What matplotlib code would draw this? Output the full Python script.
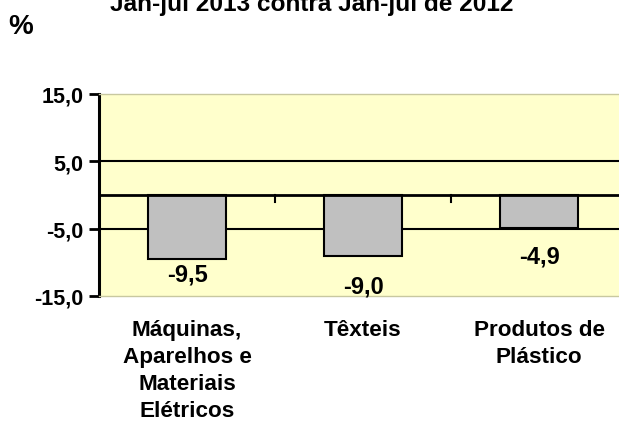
import numpy as np
import matplotlib.pyplot as plt

categorias = ['Máquinas,\nAparelhos e\nMateriais\nElétricos', 'Têxteis', 'Produtos de\nPlástico']
valores = [-9.5, -9.0, -4.9]
rotulos = ['-9,5', '-9,0', '-4,9']
yticks = [15, 5, -5, -15]
ytick_labels = ['15,0', '5,0', '-5,0', '-15,0']
titulo = 'Jan-jul 2013 contra Jan-jul de 2012'

plt.rcParams['font.family'] = ['Liberation Sans', 'DejaVu Sans']
plt.rcParams['font.weight'] = 'bold'

fig = plt.figure(figsize=(6.19, 4.27), dpi=100)
ax = fig.add_axes([99 / 619, 1 - 297 / 427, 528 / 619, 202 / 427])
ax.set_facecolor('#FFFFCC')

x = np.arange(len(valores))
ax.bar(x, valores, width=0.44, color='#C0C0C0', edgecolor='black', linewidth=1.5, zorder=3)

ax.set_xlim(-0.5, len(valores) - 0.5)
ax.set_ylim(-15, 15)
ax.set_yticks(yticks)
ax.set_yticklabels(ytick_labels, fontsize=15.5, fontweight='bold')
ax.tick_params(axis='y', direction='out', length=7, width=2, pad=4)
ax.set_xticks([])

for v in [5, -5]:
    ax.axhline(v, color='black', linewidth=1.5, zorder=1)
ax.axhline(0, color='black', linewidth=2, zorder=4)

# divisórias entre categorias no eixo zero
for b in x[:-1] + 0.5:
    ax.plot([b, b], [0, -1.0], color='black', linewidth=1.5, zorder=4)

for s in ['top', 'bottom', 'right']:
    ax.spines[s].set_color('#C8C8A0')
    ax.spines[s].set_linewidth(1)
ax.spines['left'].set_linewidth(2.2)
ax.spines['left'].set_color('black')

# rótulos de dados (deslocamento em pixels abaixo da barra)
desloc = [15, 30, 28]
for xi, v, r, d in zip(x, valores, rotulos, desloc):
    ax.annotate(r, (xi, v), xytext=(0, -d * 0.72), textcoords='offset points',
                ha='center', va='center', fontsize=17, fontweight='bold', zorder=5)

# rótulos das categorias
for xi, c in zip(x, categorias):
    ax.text(xi, -0.113, c, transform=ax.get_xaxis_transform(), ha='center', va='top',
            fontsize=16.2, fontweight='bold', linespacing=1.38)

fig.text(0.504, 1 - 11 / 427, titulo, ha='center', va='baseline', fontsize=17.6, fontweight='bold')
fig.text(8 / 619, 1 - 34 / 427, '%', ha='left', va='baseline', fontsize=20, fontweight='bold')

fig.savefig('out.png', dpi=100)
